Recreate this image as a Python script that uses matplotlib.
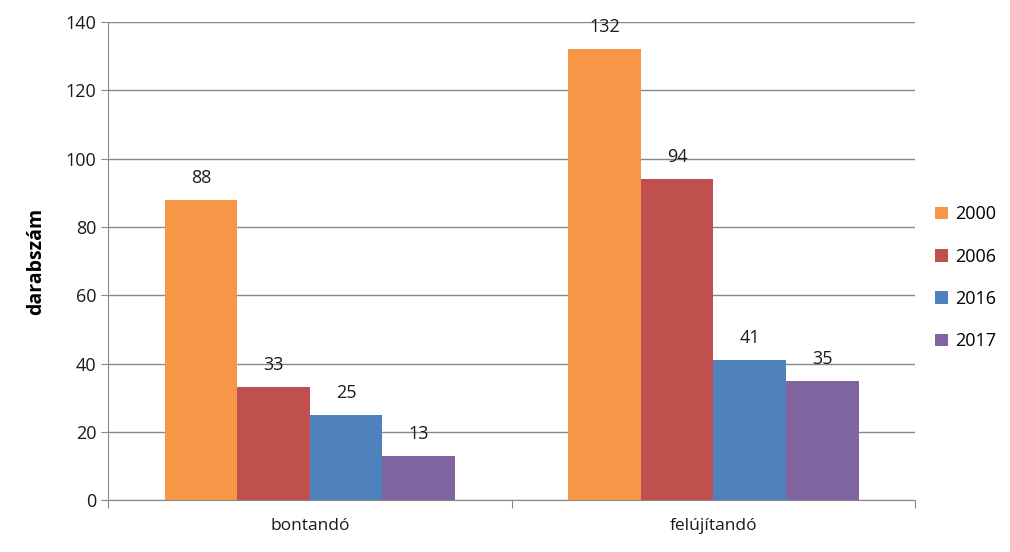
import numpy as np
import matplotlib.pyplot as plt

plt.rcParams['font.family'] = ['Open Sans', 'DejaVu Sans']

kategoriak = ["bontandó", "felújítandó"]
evek = ["2000", "2006", "2016", "2017"]
ertekek = {
    "2000": [88, 132],
    "2006": [33, 94],
    "2016": [25, 41],
    "2017": [13, 35],
}
szinek = ["#F79646", "#C0504D", "#4F81BD", "#8064A2"]

fig = plt.figure(figsize=(10.1, 5.52), dpi=100)
ax = fig.add_axes([0.107, 0.094, 0.799, 0.866])

x = np.arange(len(kategoriak))
w = 0.18
for i, ev in enumerate(evek):
    pos = x + (i - 1.5) * w
    bars = ax.bar(pos, ertekek[ev], w, color=szinek[i], label=ev, zorder=3)
    for b, v in zip(bars, ertekek[ev]):
        ax.text(b.get_x() + b.get_width() / 2, v + 3.8, str(v),
                ha="center", va="bottom", fontsize=13, color="#1a1a1a")

ax.set_xlim(-0.5, 1.5)
ax.set_ylim(0, 140)
ax.set_yticks(range(0, 141, 20))
ax.tick_params(axis="y", labelsize=13, length=5, colors="#888888", labelcolor="#1a1a1a")
ax.set_xticks([-0.5, 0.5, 1.5])
ax.set_xticklabels([])
ax.set_xticks(x, minor=True)
ax.set_xticklabels(kategoriak, minor=True)
ax.tick_params(axis="x", which="major", length=6, color="#888888")
ax.tick_params(axis="x", which="minor", length=0, labelsize=12.5, pad=13, labelcolor="#1a1a1a")
ax.grid(axis="y", color="#888888", linewidth=1, zorder=0)

for s in ["top", "right"]:
    ax.spines[s].set_visible(False)
for s in ["left", "bottom"]:
    ax.spines[s].set_color("#888888")

ax.set_ylabel("darabszám", fontsize=14, fontweight="bold", labelpad=14)

ax.legend(loc="center left", bbox_to_anchor=(1.005, 0.465), frameon=False,
          fontsize=13, handlelength=0.7, handleheight=0.7, labelspacing=1.35,
          handletextpad=0.4)

fig.savefig("out.png", dpi=100)
